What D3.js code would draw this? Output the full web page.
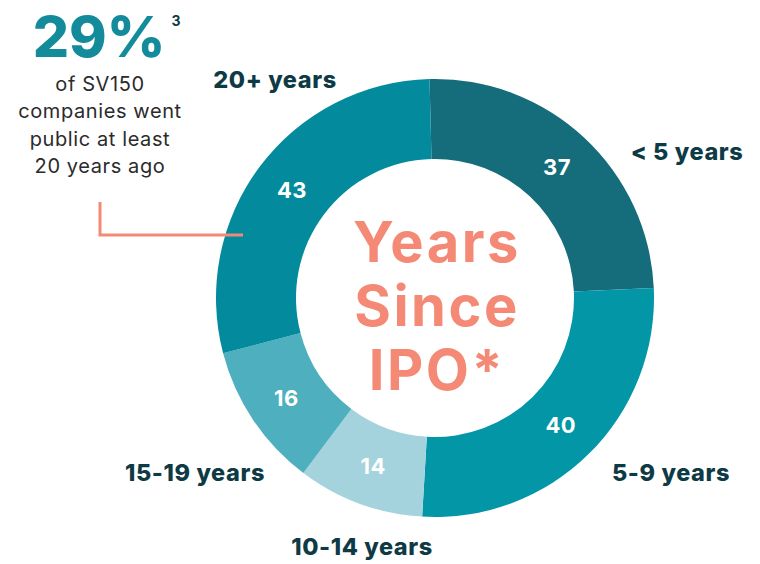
<!DOCTYPE html>
<html>
<head>
<meta charset="utf-8">
<style>
  body { margin: 0; background: #fff; }
  text { font-family: Inter, "Noto Sans", sans-serif; }
</style>
</head>
<body>
<svg width="760" height="564"></svg>
<script src="https://d3js.org/d3.v7.min.js"></script>
<script>
// data
var categories = ["< 5 years", "5-9 years", "10-14 years", "15-19 years", "20+ years"];
var counts = [37, 40, 14, 16, 43];
var sliceColors = ["#156c7b", "#0296a6", "#a5d3dd", "#4eafbe", "#038a9c"];
var centerLines = ["Years", "Since", "IPO*"];
var noteLines = ["of SV150", "companies went", "public at least", "20 years ago"];

var svg = d3.select("svg");
var cx = 435, cy = 298;
var innerR = 139, outerR = 219;
var salmon = "#f48976";
var dark = "#0e3a46";

// pie starts a touch before 12 o'clock
var pie = d3.pie().sort(null).startAngle(-0.025).endAngle(2 * Math.PI - 0.025);
var arcs = pie(counts);
var arc = d3.arc().innerRadius(innerR).outerRadius(outerR);

var g = svg.append("g").attr("transform", "translate(" + cx + "," + cy + ")");

g.selectAll("path")
  .data(arcs)
  .enter().append("path")
  .attr("d", arc)
  .attr("fill", function(d, i) { return sliceColors[i]; });

// value labels on the ring
g.selectAll("text.val")
  .data(arcs)
  .enter().append("text")
  .attr("class", "val")
  .attr("transform", function(d) { var c = arc.centroid(d); return "translate(" + c[0] + "," + (c[1] + 8) + ")"; })
  .attr("text-anchor", "middle")
  .attr("fill", "#fff")
  .attr("font-weight", 700)
  .attr("font-size", 22)
  .attr("letter-spacing", 0.5)
  .text(function(d) { return d.data; });

// category labels around the ring (offsets from centre)
var labelPos = [[252, -138], [236, 183], [-73, 257], [-240, 183], [-160, -210]];
g.selectAll("text.cat")
  .data(categories)
  .enter().append("text")
  .attr("class", "cat")
  .attr("x", function(d, i) { return labelPos[i][0]; })
  .attr("y", function(d, i) { return labelPos[i][1]; })
  .attr("text-anchor", "middle")
  .attr("fill", dark)
  .attr("font-weight", 800)
  .attr("font-size", 23.5)
  .attr("letter-spacing", 0.6)
  .text(function(d) { return d; });

// centre title
g.selectAll("text.center")
  .data(centerLines)
  .enter().append("text")
  .attr("class", "center")
  .attr("x", 2)
  .attr("y", function(d, i) { return -36 + i * 64; })
  .attr("text-anchor", "middle")
  .attr("fill", salmon)
  .attr("font-weight", 700)
  .attr("font-size", 56)
  .attr("letter-spacing", 2.5)
  .text(function(d) { return d; });

// callout
svg.append("text")
  .attr("x", 99).attr("y", 57)
  .attr("text-anchor", "middle")
  .attr("fill", "#138b9b")
  .attr("font-weight", 800)
  .attr("font-size", 57)
  .text("29%");
svg.append("text")
  .attr("x", 176).attr("y", 26)
  .attr("text-anchor", "middle")
  .attr("fill", dark)
  .attr("font-weight", 700)
  .attr("font-size", 14)
  .text("3");

svg.selectAll("text.note")
  .data(noteLines)
  .enter().append("text")
  .attr("class", "note")
  .attr("x", 100)
  .attr("y", function(d, i) { return 91 + i * 27.3; })
  .attr("text-anchor", "middle")
  .attr("fill", "#2b2b2b")
  .attr("font-size", 20)
  .attr("letter-spacing", 0.6)
  .text(function(d) { return d; });

svg.append("path")
  .attr("d", "M100,202V235H243")
  .attr("fill", "none")
  .attr("stroke", salmon)
  .attr("stroke-width", 3);
</script>
</body>
</html>
